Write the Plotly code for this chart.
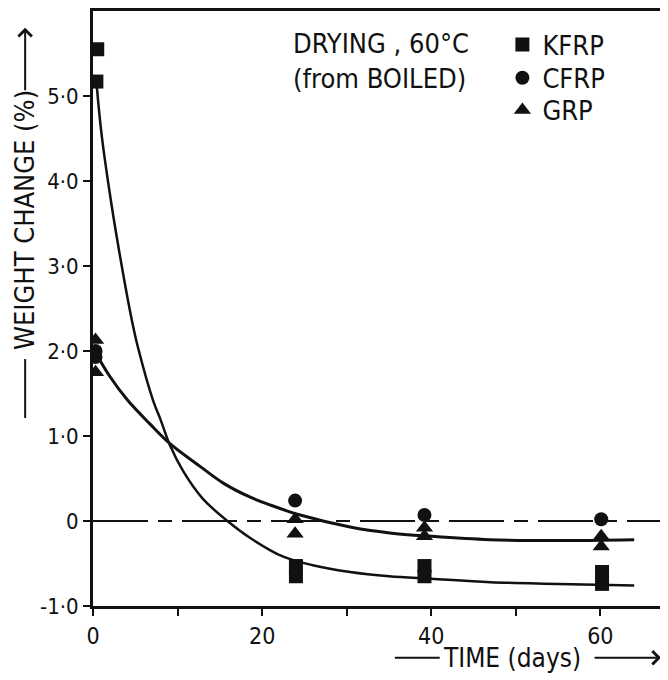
import plotly.graph_objects as go

# measured points (days, % weight change)
kfrp_x = [0.5, 0.4, 24.0, 24.0, 39.2, 39.2, 60.2, 60.2]
kfrp_y = [5.55, 5.17, -0.53, -0.65, -0.53, -0.65, -0.6, -0.74]

cfrp_x = [0.3, 0.3, 23.9, 39.2, 60.1]
cfrp_y = [2.0, 1.93, 0.24, 0.07, 0.02]

grp_x = [0.3, 0.3, 23.9, 23.9, 39.2, 39.2, 60.1, 60.1]
grp_y = [2.13, 1.75, 0.02, -0.15, -0.08, -0.18, -0.18, -0.3]

# hand-drawn fit curves
fit_kfrp_x = [0.4, 1.0, 2.1, 3.4, 4.6, 5.3, 7.1, 8.0, 9.1, 10.7, 13.0, 15.9, 18.6, 22.5, 26.0, 30.4, 35, 40, 47, 55, 64]
fit_kfrp_y = [5.17, 4.56, 3.78, 3.0, 2.36, 2.05, 1.42, 1.19, 0.89, 0.58, 0.26, 0.0, -0.2, -0.42, -0.52, -0.6, -0.65, -0.68, -0.72, -0.74, -0.76]

fit_other_x = [0.3, 2.0, 4.1, 6.75, 9.1, 12.7, 15.5, 18.6, 20.9, 24.5, 30.4, 35.1, 40, 46.9, 55, 64]
fit_other_y = [1.98, 1.7, 1.42, 1.14, 0.91, 0.64, 0.44, 0.28, 0.19, 0.07, -0.07, -0.14, -0.18, -0.22, -0.23, -0.22]

x_ticks = [0, 20, 40, 60]
y_ticks = [-1, 0, 1, 2, 3, 4, 5]
y_tick_text = ["-1·0", "0", "1·0", "2·0", "3·0", "4·0", "5·0"]

FONT = "DejaVu Sans Condensed, DejaVu Sans, sans-serif"
INK = "#111111"

fig = go.Figure()

fig.add_hline(y=0, line=dict(color=INK, width=2, dash="55px,10px,14px,10px"))

fig.add_trace(go.Scatter(
    x=fit_kfrp_x, y=fit_kfrp_y, mode="lines",
    line=dict(color=INK, width=2.5, shape="spline", smoothing=1.0),
    showlegend=False, hoverinfo="skip"
))
fig.add_trace(go.Scatter(
    x=fit_other_x, y=fit_other_y, mode="lines",
    line=dict(color=INK, width=3, shape="spline", smoothing=1.0),
    showlegend=False, hoverinfo="skip"
))

fig.add_trace(go.Scatter(
    x=kfrp_x, y=kfrp_y, mode="markers", name="KFRP", legend="legend",
    marker=dict(symbol="square", size=14, color=INK)
))
fig.add_trace(go.Scatter(
    x=cfrp_x, y=cfrp_y, mode="markers", name="CFRP", legend="legend2",
    marker=dict(symbol="circle", size=14, color=INK)
))
fig.add_trace(go.Scatter(
    x=grp_x, y=grp_y, mode="markers", name="GRP", legend="legend3",
    marker=dict(symbol="triangle-up", size=15, color=INK)
))

# condition label
fig.add_annotation(
    text="DRYING , 60°C<br>(from BOILED)",
    xref="paper", yref="paper", x=0.345, y=0.975,
    xanchor="left", yanchor="top", align="left", showarrow=False,
    font=dict(family=FONT, size=27, color=INK)
)

# y-axis title with arrow
fig.add_annotation(
    text="WEIGHT CHANGE (%)", textangle=-90,
    xref="paper", yref="paper", x=-0.118, y=0.649,
    xanchor="center", yanchor="middle",
    showarrow=False, font=dict(family=FONT, size=27, color=INK)
)
fig.add_annotation(
    xref="paper", yref="paper", x=-0.118, y=0.972, ax=0, ay=64,
    text="", showarrow=True, arrowhead=4, arrowsize=1.3, arrowwidth=2,
    arrowcolor=INK
)
fig.add_shape(type="line", xref="paper", yref="paper",
              x0=-0.118, x1=-0.118, y0=0.316, y1=0.415,
              line=dict(color=INK, width=2))

# x-axis title with arrow
fig.add_annotation(
    text="TIME (days)", xref="paper", yref="paper", x=0.729, y=-0.087,
    xanchor="center", yanchor="middle",
    showarrow=False, font=dict(family=FONT, size=26, color=INK)
)
fig.add_shape(type="line", xref="paper", yref="paper",
              x0=0.525, x1=0.603, y0=-0.087, y1=-0.087,
              line=dict(color=INK, width=2))
fig.add_annotation(
    xref="paper", yref="paper", x=0.988, y=-0.087, ax=-68, ay=0,
    text="", showarrow=True, arrowhead=4, arrowsize=1.3, arrowwidth=2,
    arrowcolor=INK
)

leg = dict(x=0.712, xanchor="left", yanchor="middle", bgcolor="rgba(0,0,0,0)",
           font=dict(family=FONT, size=27, color=INK), itemwidth=30)

# the page body adds an 8px offset, so margins are shifted by that amount
fig.update_layout(
    width=668, height=680,
    margin=dict(l=85, r=8, t=3, b=82),
    paper_bgcolor="white", plot_bgcolor="white",
    font=dict(family=FONT, size=24, color=INK),
    legend=dict(leg, y=0.943),
    legend2=dict(leg, y=0.887),
    legend3=dict(leg, y=0.833),
    xaxis=dict(
        range=[0, 68], showgrid=False, zeroline=False, automargin=False,
        showline=True, linecolor=INK, linewidth=3, mirror=True,
        tickvals=x_ticks, ticks="outside", ticklen=7, tickwidth=2, tickcolor=INK,
        tickfont=dict(family=FONT, size=23, color=INK),
        minor=dict(dtick=10, tick0=0, ticks="outside", ticklen=7, tickwidth=2, tickcolor=INK)
    ),
    yaxis=dict(
        range=[-1, 6], showgrid=False, zeroline=False, automargin=False,
        showline=True, linecolor=INK, linewidth=3,
        tickvals=y_ticks, ticktext=y_tick_text,
        ticks="outside", ticklen=7, tickwidth=2, tickcolor=INK,
        tickfont=dict(family=FONT, size=22, color=INK)
    )
)

fig.write_html("out.html")
